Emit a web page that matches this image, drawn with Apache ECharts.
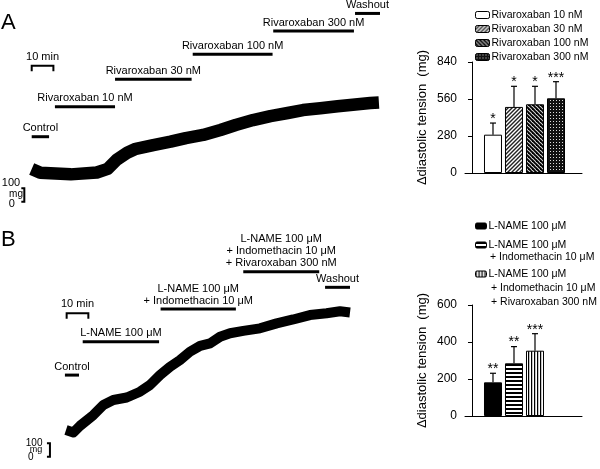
<!DOCTYPE html>
<html><head><meta charset="utf-8">
<script src="https://cdn.jsdelivr.net/npm/echarts@6/dist/echarts.min.js"></script>
<style>html,body{margin:0;padding:0;background:#fff}#c{width:600px;height:469px}</style>
</head><body><div id="c"></div>
<script>
// ---------------- DATA ----------------
// Panel A bar chart
const barA_names = ['Rivaroxaban 10 nM', 'Rivaroxaban 30 nM', 'Rivaroxaban 100 nM', 'Rivaroxaban 300 nM'];
const barA_mean = [290, 500, 520, 565];
const barA_sem = [88, 156, 136, 126];
const barA_sig = ['*', '*', '*', '***'];
const barA_ticks = [0, 280, 560, 840];
// Panel B bar chart
const barB_names = ['L-NAME 100 μM', 'L-NAME 100 μM\n+ Indomethacin 10 μM', 'L-NAME 100 μM\n+ Indomethacin 10 μM\n+ Rivaroxaban 300 nM'];
const barB_mean = [182, 285, 353];
const barB_sem = [49, 90, 92];
const barB_sig = ['**', '**', '***'];
const barB_ticks = [0, 200, 400, 600];
const yName = 'Δdiastolic tension  (mg)';

// Panel A tension trace (time in min, tension in mg)
const traceA_t = [0, 4, 18, 30, 35, 39, 44, 48, 56, 64, 71, 79, 87, 94, 102, 110, 118, 125, 133, 141, 148, 156, 160];
const traceA_mg = [244, 216, 204, 218, 245, 311, 365, 395, 423, 448, 475, 498, 535, 572, 609, 639, 662, 684, 697, 712, 724, 736, 740];
// Panel B tension trace
const traceB_t = [0, 3.4, 6.5, 12.6, 17.2, 21.8, 28, 34.1, 38.7, 43.3, 47.9, 52.5, 57.1, 61.8, 66.4, 71, 75.6, 81.7, 89.4, 97.1, 104.7, 112.4, 120.1, 126.3, 130.9];
const traceB_mg = [199, 181, 231, 311, 386, 423, 442, 485, 535, 609, 671, 721, 783, 827, 846, 895, 921, 939, 958, 995, 1024, 1057, 1070, 1085, 1076];

// Treatment periods (min) and marker level (mg)
const treatA_names = ['Control', 'Rivaroxaban 10 nM', 'Rivaroxaban 30 nM', 'Rivaroxaban 100 nM', 'Rivaroxaban 300 nM', 'Washout'];
const treatA_start = [0, 10.7, 38.4, 74.2, 111.3, 149];
const treatA_end = [8, 38.4, 73.7, 111, 148.5, 160.5];
const treatA_level = [485, 709, 913, 1100, 1273, 1405];
const treatB_names = ['Control', 'L-NAME 100 μM', 'L-NAME 100 μM\n+ Indomethacin 10 μM', 'L-NAME 100 μM\n+ Indomethacin 10 μM\n+ Rivaroxaban 300 nM', 'Washout'];
const treatB_start = [-0.5, 7.7, 43.6, 81.7, 119.4];
const treatB_end = [6, 42.9, 78.3, 116.7, 130.9];
const treatB_level = [609, 858, 1102, 1380, 1264];

// Scale bars
const scaleA_time = [0, 10], scaleA_timeLevel = 1015, scaleA_mgAt = -3.4, scaleA_mg = [0, 100];
const scaleB_time = [0.3, 10.3], scaleB_timeLevel = 1070, scaleB_mgAt = -7.4, scaleB_mg = [0, 100];

// ---------------- STYLE HELPERS ----------------
const FF = "'Liberation Sans', Arial, Helvetica, sans-serif";
function pattern(w, h, draw) {
  const c = document.createElement('canvas');
  c.width = w; c.height = h;
  const g = c.getContext('2d');
  draw(g, w, h);
  return { image: c, repeat: 'repeat' };
}
const fillA = [
  '#ffffff',
  pattern(4, 4, (g) => { g.fillStyle = '#fff'; g.fillRect(0, 0, 4, 4); g.strokeStyle = '#222'; g.lineWidth = 1.4;
    [[0, 4, 4, 0], [-1, 1, 1, -1], [3, 5, 5, 3]].forEach(s => { g.beginPath(); g.moveTo(s[0], s[1]); g.lineTo(s[2], s[3]); g.stroke(); }); }),
  pattern(4, 4, (g) => { g.fillStyle = '#ddd'; g.fillRect(0, 0, 4, 4); g.strokeStyle = '#000'; g.lineWidth = 1.9;
    [[0, 0, 4, 4], [-1, 3, 1, 5], [3, -1, 5, 1]].forEach(s => { g.beginPath(); g.moveTo(s[0], s[1]); g.lineTo(s[2], s[3]); g.stroke(); }); }),
  pattern(3, 3, (g) => { g.fillStyle = '#111'; g.fillRect(0, 0, 3, 3); g.fillStyle = '#ddd'; g.fillRect(1, 1, 1, 1); })
];
const fillB = [
  '#000000',
  pattern(4, 4, (g) => { g.fillStyle = '#fff'; g.fillRect(0, 0, 4, 4); g.fillStyle = '#000'; g.fillRect(0, 0, 4, 2); }),
  pattern(3, 3, (g) => { g.fillStyle = '#fff'; g.fillRect(0, 0, 3, 3); g.fillStyle = '#000'; g.fillRect(0, 0, 1, 3); g.fillStyle = '#888'; g.fillRect(1, 0, 0.5, 3); })
];

function barSeries(names, means, fills, xi) {
  return names.map((n, i) => ({
    type: 'bar', name: n, xAxisIndex: xi, yAxisIndex: xi,
    barWidth: 18, barGap: '-100%',
    data: [[i + 1, means[i]]],
    itemStyle: { color: fills[i], borderColor: '#000', borderWidth: 1 },
    silent: true
  }));
}
function errSeries(means, sems, sig, xi) {
  return {
    type: 'custom', xAxisIndex: xi, yAxisIndex: xi, z: 5, clip: false, silent: true,
    data: means.map((m, i) => [i + 1, m, m + sems[i]]),
    renderItem: function (params, api) {
      const i = params.dataIndex;
      const b = api.coord([api.value(0), api.value(1)]);
      const t = api.coord([api.value(0), api.value(2)]);
      return { type: 'group', children: [
        { type: 'line', shape: { x1: b[0], y1: b[1], x2: t[0], y2: t[1] }, style: { stroke: '#000', lineWidth: 1.2 } },
        { type: 'line', shape: { x1: t[0] - 3, y1: t[1], x2: t[0] + 3, y2: t[1] }, style: { stroke: '#000', lineWidth: 1.2 } },
        { type: 'text', style: { text: sig[i], x: t[0], y: t[1] - 4, align: 'center', verticalAlign: 'middle', font: '14px ' + FF, fill: '#000' } }
      ] };
    }
  };
}
function treatSeries(names, st, en, lv, xi) {
  return {
    type: 'custom', xAxisIndex: xi, yAxisIndex: xi, clip: false, silent: true,
    data: st.map((s, i) => [s, en[i], lv[i]]),
    renderItem: function (params, api) {
      const i = params.dataIndex;
      const a = api.coord([api.value(0), api.value(2)]);
      const b = api.coord([api.value(1), api.value(2)]);
      const lines = names[i].split('\n');
      const cx = (a[0] + b[0]) / 2;
      const ch = [{ type: 'line', shape: { x1: a[0], y1: a[1], x2: b[0], y2: b[1] }, style: { stroke: '#000', lineWidth: 3 } }];
      lines.forEach((ln, k) => {
        ch.push({ type: 'text', style: { text: ln, x: cx, y: a[1] - 8.5 - (lines.length - 1 - k) * 12, align: 'center', verticalAlign: 'middle', font: '11px ' + FF, fill: '#000' } });
      });
      return { type: 'group', children: ch };
    }
  };
}
function scaleSeries(time, timeLevel, mgAt, mg, xi, lab) {
  return {
    type: 'custom', xAxisIndex: xi, yAxisIndex: xi, clip: false, silent: true,
    data: [[0]],
    renderItem: function (params, api) {
      const p1 = api.coord([time[0], timeLevel]);
      const p2 = api.coord([time[1], timeLevel]);
      const q0 = api.coord([mgAt, mg[0]]);
      const q1 = api.coord([mgAt, mg[1]]);
      const x = q0[0];
      const mid = (q0[1] + q1[1]) / 2;
      return { type: 'group', children: [
        { type: 'polyline', shape: { points: [[p1[0], p1[1] + 5.5], [p1[0], p1[1]], [p2[0], p2[1]], [p2[0], p2[1] + 5.5]] }, style: { stroke: '#000', fill: null, lineWidth: 2 } },
        { type: 'text', style: { text: '10 min', x: (p1[0] + p2[0]) / 2, y: p1[1] - 9, align: 'center', verticalAlign: 'middle', font: '11px ' + FF, fill: '#000' } },
        { type: 'polyline', shape: { points: [[x - 3, q1[1]], [x, q1[1]], [x, q0[1]], [x - 3, q0[1]]] }, style: { stroke: '#000', fill: null, lineWidth: 2 } },
        { type: 'text', style: { text: String(mg[1]), x: x + lab[0][0], y: q1[1] + lab[0][1], align: 'center', verticalAlign: 'middle', font: lab[3] + 'px ' + FF, fill: '#000' } },
        { type: 'text', style: { text: 'mg', x: x + lab[1][0], y: mid + lab[1][1], align: 'center', verticalAlign: 'middle', font: (lab[3] - 1) + 'px ' + FF, fill: '#000' } },
        { type: 'text', style: { text: String(mg[0]), x: x + lab[2][0], y: q0[1] + lab[2][1], align: 'center', verticalAlign: 'middle', font: lab[3] + 'px ' + FF, fill: '#000' } }
      ] };
    }
  };
}
function traceSeries(t, v, xi, w) {
  return {
    type: 'line', xAxisIndex: xi, yAxisIndex: xi, showSymbol: false, silent: true,
    data: t.map((x, i) => [x, v[i]]),
    lineStyle: { color: '#000', width: w, join: 'round', cap: 'butt' }
  };
}
function barY(gi, max, step) {
  return {
    gridIndex: gi, type: 'value', min: 0, max: max, interval: step,
    name: yName, nameLocation: 'middle', nameGap: 36,
    nameTextStyle: { fontSize: 13, color: '#000', fontFamily: FF },
    axisLine: { show: true, lineStyle: { color: '#000', width: 1 } },
    axisTick: { show: true, length: 4, lineStyle: { color: '#000' } },
    axisLabel: { fontSize: 12, color: '#000', margin: 8, fontFamily: FF },
    splitLine: { show: false }
  };
}
function barX(gi) {
  return {
    gridIndex: gi, type: 'value', min: -0.333, max: 5.238,
    axisLine: { show: true, onZero: false, lineStyle: { color: '#000', width: 1 } },
    axisTick: { show: false }, axisLabel: { show: false }, splitLine: { show: false }
  };
}
const legBase = {
  orient: 'vertical', padding: 0, itemGap: 0, selectedMode: false,
  itemStyle: { borderColor: '#000', borderWidth: 1 }
};
const legendB_rowY = [226, 245, 274];

const option = {
  animation: false,
  textStyle: { fontFamily: FF },
  grid: [
    { left: 31.7, top: 0.7, width: 347.2, height: 201 },
    { left: 465, top: 62, width: 117, height: 111 },
    { left: 66, top: 228.9, width: 286.4, height: 227.8 },
    { left: 465, top: 305, width: 117, height: 111 }
  ],
  xAxis: [
    { gridIndex: 0, type: 'value', min: 0, max: 160, show: false },
    barX(1),
    { gridIndex: 2, type: 'value', min: 0, max: 132, show: false },
    barX(3)
  ],
  yAxis: [
    { gridIndex: 0, type: 'value', min: 0, max: 1500, show: false },
    barY(1, 840, 280),
    { gridIndex: 2, type: 'value', min: 0, max: 1700, show: false },
    barY(3, 600, 200)
  ],
  legend: [
    Object.assign({}, legBase, { data: barA_names, left: 475, top: 8, itemWidth: 14, itemHeight: 7,
      textStyle: { fontSize: 10.5, lineHeight: 14, color: '#000', fontFamily: FF, padding: [0, 0, 0, -3] } })
  ].concat(barB_names.map((n, i) => Object.assign({}, legBase, {
    data: [n], left: 475, top: legendB_rowY[i] - 7, itemWidth: 11, itemHeight: 6,
    formatter: (name) => name.split('\n')[0],
    textStyle: { fontSize: 10.5, lineHeight: 14, color: '#000', fontFamily: FF, padding: [0, 0, 0, -3] }
  }))),
  graphic: [
    { type: 'text', left: 1, top: 12, style: { text: 'A', font: '22px ' + FF, fill: '#000' } },
    { type: 'text', left: 1, top: 229, style: { text: 'B', font: '22px ' + FF, fill: '#000' } },
    { type: 'text', x: 490, y: 257.5, style: { text: barB_names[1].split('\n')[1], font: '10.5px ' + FF, fill: '#000', verticalAlign: 'middle' } },
    { type: 'text', x: 491, y: 288, style: { text: barB_names[2].split('\n')[1], font: '10.5px ' + FF, fill: '#000', verticalAlign: 'middle' } },
    { type: 'text', x: 491, y: 302, style: { text: barB_names[2].split('\n')[2], font: '10.5px ' + FF, fill: '#000', verticalAlign: 'middle' } }
  ],
  series: [].concat(
    traceSeries(traceA_t, traceA_mg, 0, 12.5),
    treatSeries(treatA_names, treatA_start, treatA_end, treatA_level, 0),
    scaleSeries(scaleA_time, scaleA_timeLevel, scaleA_mgAt, scaleA_mg, 0, [[-13.3, -5], [-8.3, -0.7], [-12.6, 2.3], 11]),
    barSeries(barA_names, barA_mean, fillA, 1),
    errSeries(barA_mean, barA_sem, barA_sig, 1),
    traceSeries(traceB_t, traceB_mg, 2, 10),
    treatSeries(treatB_names, treatB_start, treatB_end, treatB_level, 2),
    scaleSeries(scaleB_time, scaleB_timeLevel, scaleB_mgAt, scaleB_mg, 2, [[-15.8, 0], [-14, 0], [-19.2, 0.5], 10]),
    barSeries(barB_names, barB_mean, fillB, 3),
    errSeries(barB_mean, barB_sem, barB_sig, 3)
  )
};
const chart = echarts.init(document.getElementById('c'), null, { renderer: 'canvas' });
chart.setOption(option);
</script>
</body></html>
